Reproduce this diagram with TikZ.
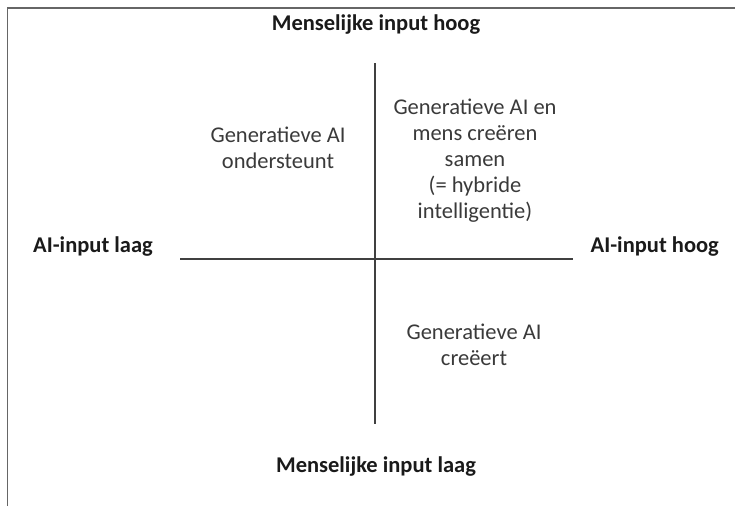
\documentclass[tikz,border=0pt]{standalone}
\usepackage{fontspec}
\setmainfont{Carlito}
\definecolor{txt}{HTML}{3A3A3A}
\definecolor{hd}{HTML}{1A1A1A}
\definecolor{ln}{HTML}{404040}
\begin{document}
\begin{tikzpicture}[x=1pt,y=-1pt,
  lab/.style={font=\fontsize{22.5}{27}\selectfont\bfseries, text=hd, inner sep=0pt},
  quad/.style={font=\fontsize{22.5}{26}\selectfont, text=txt, align=center, inner sep=0pt},
  axis/.style={draw=ln, line width=1.2pt}]
\useasboundingbox (0,0) rectangle (735,506);
\draw[draw=gray!80!black, line width=1.5pt] (7.5,506) -- (7.5,8) -- (735,8);
\coordinate (vt) at (375,63);
\coordinate (vb) at (375,424);
\coordinate (hl) at (180,259);
\coordinate (hr) at (573,259);
\draw[axis] (vt) -- (vb);
\draw[axis] (hl) -- (hr);
\node[lab] (top) at (376,25) {Menselijke input hoog};
\node[lab] (bot) at (376,467) {Menselijke input laag};
\node[lab, anchor=west] (left) at (33,247) {AI-input laag};
\node[lab, anchor=east] (right) at (719,247) {AI-input hoog};
\node[quad] (q1) at (278,148) {Generatieve AI\\ondersteunt};
\node[quad] (q2) at (475,161) {Generatieve AI en\\mens creëren\\samen\\(= hybride\\intelligentie)};
\node[quad] (q3) at (474,345) {Generatieve AI\\creëert};
\end{tikzpicture}
\end{document}
